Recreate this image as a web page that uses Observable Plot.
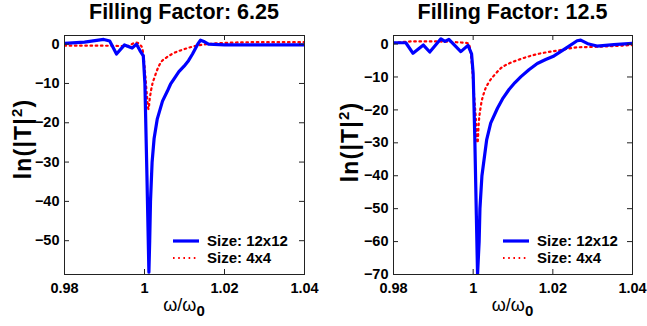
<!DOCTYPE html>
<html>
<head>
<meta charset="utf-8">
<script src="https://cdn.jsdelivr.net/npm/d3@7"></script>
<script src="https://cdn.jsdelivr.net/npm/@observablehq/plot@0.6"></script>
<style>
  html, body { margin: 0; padding: 0; background: #fff; }
  #wrap { position: relative; width: 647px; height: 326px; overflow: hidden; font-family: "Liberation Sans", Arial, Helvetica, sans-serif; color: #000; }
  .panel { position: absolute; top: 0; }
  .title { position: absolute; top: 0px; width: 260px; text-align: center; font-weight: bold; font-size: 21.5px; white-space: nowrap; }
  .xlab { position: absolute; top: 295px; width: 100px; text-align: center; white-space: nowrap; font-size: 18px; }
  .xlab sub { font-size: 15px; font-weight: bold; vertical-align: -5px; }
  .ylab { position: absolute; font-weight: bold; font-size: 23px; white-space: nowrap; transform: translate(-50%, -50%) rotate(-90deg); letter-spacing: 1.2px; line-height: 1; }
  .ylab sup { font-size: 15px; }
  .leg { position: absolute; font-weight: bold; font-size: 15px; white-space: nowrap; }
  .leg .row { display: flex; align-items: center; height: 17px; }
  .leg svg { margin-right: 8px; }
</style>
</head>
<body>
<div id="wrap"></div>
<script>
// ---------------- data ----------------
const panelTitles = ["Filling Factor: 6.25", "Filling Factor: 12.5"];
const seriesNames = ["Size: 12x12", "Size: 4x4"];
const xTicks = [0.98, 1.0, 1.02, 1.04];
const xTickLabels = ["0.98", "1", "1.02", "1.04"];
const yTicksA = [0, -10, -20, -30, -40, -50];
const yTicksB = [0, -10, -20, -30, -40, -50, -60, -70];

// Filling factor 6.25, size 12x12
const xA12 = [0.980, 0.985, 0.9898, 0.9913, 0.9930, 0.9950, 0.9969, 0.9980, 0.9988, 0.9997, 1.0001, 1.0006, 1.0011, 1.0013, 1.0015, 1.0019, 1.0024, 1.0032, 1.0045, 1.0057, 1.0065, 1.0076, 1.0086, 1.0099, 1.0110, 1.0120, 1.0133, 1.0140, 1.0150, 1.0160, 1.0200, 1.0300, 1.0400];
const yA12 = [0.2, 0.5, 1.2, 0.8, -2.5, -0.2, -1.0, 0.0, -1.5, -3.0, -10, -33, -58, -50, -40, -30, -24, -19, -14.5, -12, -10.2, -8.5, -7, -5.6, -4.2, -2.5, 0.0, 1.0, 0.6, 0.0, -0.2, -0.2, -0.2];
// Filling factor 6.25, size 4x4
const xA4 = [0.980, 0.985, 0.990, 0.9955, 0.9980, 0.9990, 0.9994, 0.9998, 1.0002, 1.0006, 1.0010, 1.0013, 1.0016, 1.0020, 1.0025, 1.0030, 1.0040, 1.0055, 1.0069, 1.0090, 1.0111, 1.0135, 1.0157, 1.0200, 1.0280, 1.0350, 1.0400];
const yA4 = [-0.4, -0.4, -0.4, -0.5, 0.4, -0.3, -0.9, -3.5, -8, -13, -16.5, -14, -12, -10, -8.5, -7, -4.8, -3.4, -2.5, -1.6, -0.9, -0.3, 0.0, 0.3, 0.5, 0.5, 0.5];

// Filling factor 12.5, size 12x12
const xB12 = [0.980, 0.9831, 0.9849, 0.9875, 0.9891, 0.9919, 0.9929, 0.9939, 0.9969, 0.9987, 0.9996, 1.0000, 1.0004, 1.0008, 1.0011, 1.0015, 1.0017, 1.0022, 1.0034, 1.0044, 1.0061, 1.0075, 1.0090, 1.0105, 1.0120, 1.0140, 1.0161, 1.0182, 1.0203, 1.0236, 1.0261, 1.0270, 1.0290, 1.0311, 1.0353, 1.0400];
const yB12 = [0.4, 0.4, -2.8, -0.3, -2.4, 1.6, 0.8, 1.4, -2.3, -0.4, -3, -9, -28, -52, -70, -60, -50, -40, -29, -24, -19.5, -16.4, -13.8, -11.7, -9.9, -7.8, -5.9, -4.7, -3.6, -1.0, 1.0, 1.2, 0.0, -0.6, -0.2, 0.2];
// Filling factor 12.5, size 4x4
const xB4 = [0.980, 0.985, 0.990, 0.995, 0.9985, 0.9990, 0.9994, 0.9998, 1.0002, 1.0007, 1.0011, 1.0014, 1.0019, 1.0028, 1.0040, 1.0055, 1.0069, 1.0090, 1.0111, 1.0153, 1.0220, 1.0261, 1.0290, 1.0315, 1.0350, 1.0400];
const yB4 = [0.3, 0.8, 0.8, 0.6, 0.3, -0.3, -2.8, -8, -15, -23, -30, -24, -19, -14.5, -11.5, -9.2, -7.4, -5.9, -4.9, -3.3, -1.8, -1.0, -0.9, -0.8, -0.6, -0.3];

// ---------------- drawing ----------------
const toRows = (xs, ys) => xs.map((x, i) => ({x, y: ys[i]}));
const FONT = '"Liberation Sans", Arial, Helvetica, sans-serif';
const BLUE = "#0000ff", RED = "#ff0000";
const DOTS = "1.6,3.6";

function panel({left, width, marginLeft, marginRight, yDomain, yTicks, d12, d4}) {
  const height = 326, marginTop = 35, marginBottom = 52;
  const innerW = width - marginLeft - marginRight;
  const innerH = height - marginTop - marginBottom;
  const fmtX = (d) => xTickLabels[xTicks.indexOf(d)];
  const tk = 5, axisStroke = "#222";
  const p = Plot.plot({
    width, height, marginLeft, marginRight, marginTop, marginBottom,
    style: {fontFamily: FONT, fontWeight: "bold", fontSize: "14.5px", color: "#000", background: "transparent", overflow: "visible"},
    x: {domain: [0.98, 1.04]},
    y: {domain: yDomain},
    marks: [
      Plot.line(d4, {x: "x", y: "y", stroke: RED, strokeWidth: 2.2, strokeDasharray: DOTS, curve: "monotone-x", clip: true}),
      Plot.line(d12, {x: "x", y: "y", stroke: BLUE, strokeWidth: 3.2, strokeLinejoin: "round", clip: true}),
      Plot.frame({stroke: axisStroke, strokeWidth: 1}),
      // inward tick marks on all four sides
      Plot.tickX(xTicks, {x: (d) => d, stroke: axisStroke, insetTop: innerH - tk}),
      Plot.tickX(xTicks, {x: (d) => d, stroke: axisStroke, insetBottom: innerH - tk}),
      Plot.tickY(yTicks, {y: (d) => d, stroke: axisStroke, insetRight: innerW - tk}),
      Plot.tickY(yTicks, {y: (d) => d, stroke: axisStroke, insetLeft: innerW - tk}),
      Plot.axisX(xTicks, {anchor: "bottom", tickSize: 0, tickPadding: 8, tickFormat: fmtX, label: null}),
      Plot.axisY(yTicks, {anchor: "left", tickSize: 0, tickPadding: 5, label: null})
    ]
  });
  const holder = document.createElement("div");
  holder.className = "panel";
  holder.style.left = left + "px";
  holder.appendChild(p);
  return holder;
}

const wrap = document.getElementById("wrap");
wrap.appendChild(panel({left: 0, width: 320, marginLeft: 64, marginRight: 16, yDomain: [-58.6, 2.2], yTicks: yTicksA, d12: toRows(xA12, yA12), d4: toRows(xA4, yA4)}));
wrap.appendChild(panel({left: 320, width: 327, marginLeft: 73, marginRight: 15, yDomain: [-70, 2.6], yTicks: yTicksB, d12: toRows(xB12, yB12), d4: toRows(xB4, yB4)}));

function addText(cls, html, styles) {
  const d = document.createElement("div");
  d.className = cls;
  d.innerHTML = html;
  Object.assign(d.style, styles);
  wrap.appendChild(d);
  return d;
}
// titles
addText("title", panelTitles[0], {left: (184 - 130) + "px"});
addText("title", panelTitles[1], {left: (512.5 - 130) + "px"});
// x labels
addText("xlab", "ω/ω<sub>0</sub>", {left: (184 - 50) + "px"});
addText("xlab", "ω/ω<sub>0</sub>", {left: (512.5 - 50) + "px"});
// y labels
addText("ylab", "ln(|T|<sup>2</sup>)", {left: "22px", top: "139px"});
addText("ylab", "ln(|T|<sup>2</sup>)", {left: "349px", top: "142px"});
// legends
function legend(left, top) {
  const sw = (color, dash, w) => `<svg width="26" height="6"><line x1="0" y1="3" x2="26" y2="3" stroke="${color}" stroke-width="${w}" ${dash ? `stroke-dasharray="${dash}"` : ""}/></svg>`;
  addText("leg",
    `<div class="row">${sw(BLUE, null, 3.2)}<span>${seriesNames[0]}</span></div>` +
    `<div class="row">${sw(RED, DOTS, 2.2)}<span>${seriesNames[1]}</span></div>`,
    {left: left + "px", top: top + "px"});
}
legend(173, 232);
legend(503, 232);
</script>
</body>
</html>
